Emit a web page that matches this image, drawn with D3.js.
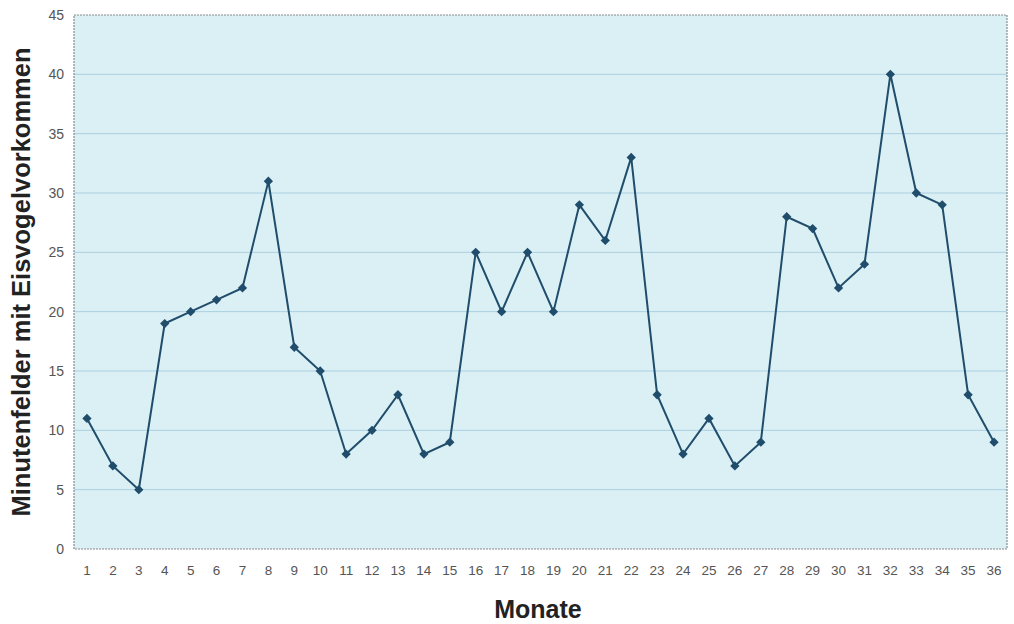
<!DOCTYPE html>
<html><head><meta charset="utf-8">
<script src="https://cdn.jsdelivr.net/npm/d3@7"></script>
<style>body{margin:0;background:#fff;} svg{display:block;}</style>
</head><body>
<svg id="chart" width="1014" height="624"></svg>
<script>
const months = d3.range(1, 37).map(String);
const values = [11,7,5,19,20,21,22,31,17,15,8,10,13,8,9,25,20,25,20,29,26,33,13,8,11,7,9,28,27,22,24,40,30,29,13,9];
const yTicks = [0,5,10,15,20,25,30,35,40,45];
const xTitle = "Monate";
const yTitle = "Minutenfelder mit Eisvogelvorkommen";

const svg = d3.select("#chart");
const m = {left:74, top:15, right:1007, bottom:549};
const x = d3.scaleBand().domain(months).range([m.left, m.right]);
const y = d3.scaleLinear().domain([0,45]).range([m.bottom, m.top]);

svg.append("rect").attr("x", m.left).attr("y", m.top)
  .attr("width", m.right-m.left).attr("height", m.bottom-m.top)
  .attr("fill", "#dbf0f5");

svg.append("g").selectAll("line").data(yTicks.slice(1, -1)).join("line")
  .attr("x1", m.left).attr("x2", m.right)
  .attr("y1", d=>y(d)).attr("y2", d=>y(d))
  .attr("stroke", "#a9cfe0").attr("stroke-width", 1);

svg.append("rect").attr("x", m.left).attr("y", m.top)
  .attr("width", m.right-m.left).attr("height", m.bottom-m.top)
  .attr("fill", "none").attr("stroke", "#8a8a8a").attr("stroke-width", 1.2)
  .attr("stroke-dasharray", "2,1");

const yAxis = svg.append("g").attr("transform", `translate(${m.left},0)`)
  .call(d3.axisLeft(y).tickValues(yTicks).tickSize(0).tickPadding(10));
yAxis.select(".domain").remove();
yAxis.selectAll("text").attr("font-family","Liberation Sans, Arial, sans-serif")
  .attr("font-size", 14).attr("fill", "#555");

const xAxis = svg.append("g").attr("transform", `translate(0,${m.bottom})`)
  .call(d3.axisBottom(x).tickSize(0).tickPadding(16));
xAxis.select(".domain").remove();
xAxis.selectAll("text").attr("font-family","Liberation Sans, Arial, sans-serif")
  .attr("font-size", 13.5).attr("fill", "#555");

const line = d3.line().x((d,i)=>x(months[i])+x.bandwidth()/2).y(d=>y(d));
svg.append("path").datum(values).attr("d", line)
  .attr("fill","none").attr("stroke","#1f4d6b").attr("stroke-width",2);

svg.append("g").selectAll("path").data(values).join("path")
  .attr("d", d3.symbol(d3.symbolDiamond2, 55))
  .attr("transform", (d,i)=>`translate(${x(months[i])+x.bandwidth()/2},${y(d)})`)
  .attr("fill","#1f4d6b");

svg.append("text").attr("x", 538).attr("y", 618).attr("text-anchor","middle")
  .attr("font-family","Liberation Sans, Arial, sans-serif").attr("font-weight","bold")
  .attr("font-size", 25).attr("fill","#222").text(xTitle);

svg.append("text").attr("transform","translate(30,282) rotate(-90)").attr("text-anchor","middle")
  .attr("font-family","Liberation Sans, Arial, sans-serif").attr("font-weight","bold")
  .attr("font-size", 25.5).attr("fill","#222").text(yTitle);
</script>
</body></html>
